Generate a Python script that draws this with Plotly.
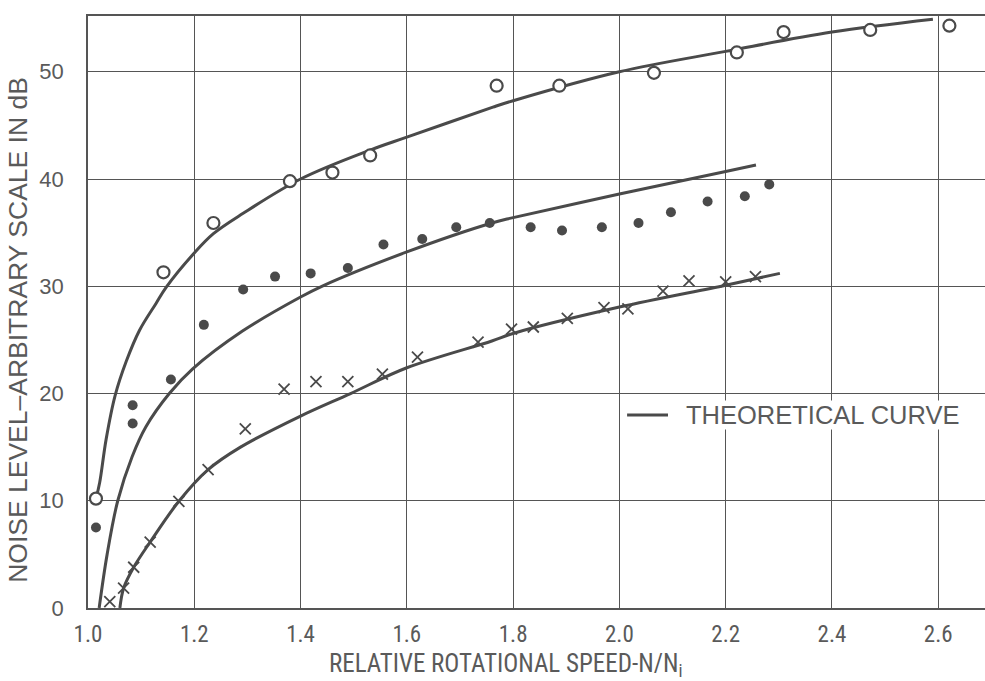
import plotly.graph_objects as go

# ---- data ----
open_x = [1.015, 1.142, 1.236, 1.380, 1.460, 1.531, 1.769, 1.887, 2.065, 2.221, 2.309, 2.472, 2.621]
open_y = [10.2, 31.3, 35.9, 39.8, 40.6, 42.2, 48.7, 48.7, 49.9, 51.8, 53.7, 53.9, 54.3]

dot_x = [1.015, 1.084, 1.084, 1.156, 1.218, 1.292, 1.352, 1.419, 1.489, 1.556, 1.629, 1.693,
         1.756, 1.833, 1.892, 1.967, 2.036, 2.097, 2.166, 2.236, 2.282]
dot_y = [7.5, 18.9, 17.2, 21.3, 26.4, 29.7, 30.9, 31.2, 31.7, 33.9, 34.4, 35.5,
         35.9, 35.5, 35.2, 35.5, 35.9, 36.9, 37.9, 38.4, 39.5]

cross_x = [1.041, 1.067, 1.086, 1.117, 1.171, 1.226, 1.296, 1.369, 1.429, 1.489, 1.554, 1.620,
           1.734, 1.797, 1.838, 1.902, 1.971, 2.016, 2.082, 2.131, 2.200, 2.256]
cross_y = [0.6, 1.85, 3.8, 6.15, 9.95, 12.9, 16.7, 20.4, 21.1, 21.1, 21.8, 23.4,
           24.8, 26.0, 26.2, 27.0, 28.0, 27.9, 29.55, 30.5, 30.4, 30.9]

top_curve_x = [1.015, 1.022, 1.034, 1.051, 1.072, 1.097, 1.128, 1.147, 1.200, 1.236, 1.292,
               1.400, 1.531, 1.600, 1.762, 1.800, 2.000, 2.200, 2.400, 2.590]
top_curve_y = [10.2, 11.7, 15.7, 19.8, 23.0, 25.9, 28.4, 29.9, 33.1, 34.9, 36.8,
               40.0, 42.7, 43.9, 46.7, 47.3, 50.0, 51.9, 53.7, 54.9]

mid_curve_x = [1.021, 1.036, 1.056, 1.083, 1.109, 1.153, 1.197, 1.290, 1.400, 1.440, 1.600,
               1.760, 1.800, 2.000, 2.200, 2.257]
mid_curve_y = [0.0, 5.0, 10.0, 14.1, 16.9, 20.0, 22.3, 25.8, 29.0, 30.0, 33.2,
               35.9, 36.4, 38.6, 40.7, 41.3]

low_curve_x = [1.060, 1.067, 1.086, 1.117, 1.171, 1.226, 1.287, 1.400, 1.494, 1.600, 1.760,
               1.800, 2.000, 2.200, 2.302]
low_curve_y = [0.0, 1.85, 3.8, 6.15, 9.95, 12.9, 15.0, 17.9, 20.0, 22.4, 24.9,
               25.6, 28.06, 30.1, 31.2]

x_ticks = [1.0, 1.2, 1.4, 1.6, 1.8, 2.0, 2.2, 2.4, 2.6]
x_tick_text = ["1.0", "1.2", "1.4", "1.6", "1.8", "2.0", "2.2", "2.4", "2.6"]
y_ticks = [0, 10, 20, 30, 40, 50]
y_tick_text = ["0", "10", "20", "30", "40", "50"]

x_title = "RELATIVE ROTATIONAL SPEED-N/N<sub>i</sub>"
y_title = "NOISE LEVEL–ARBITRARY SCALE IN dB"
legend_label = "THEORETICAL CURVE"

INK = "#4a4a4a"
TXT = "#5a5a5a"
GRID = "#555555"
NARROW = "Liberation Sans Narrow, Roboto Condensed, Liberation Sans, sans-serif"
SANS = "Liberation Sans, Arial, sans-serif"

fig = go.Figure()

curve_style = dict(color=INK, width=3, shape="spline", smoothing=1.0)
fig.add_trace(go.Scatter(x=top_curve_x, y=top_curve_y, mode="lines", line=curve_style,
                         name=legend_label, showlegend=False))
fig.add_trace(go.Scatter(x=mid_curve_x, y=mid_curve_y, mode="lines", line=curve_style,
                         name=legend_label, showlegend=False))
fig.add_trace(go.Scatter(x=low_curve_x, y=low_curve_y, mode="lines", line=curve_style,
                         name=legend_label, showlegend=False))

fig.add_trace(go.Scatter(x=open_x, y=open_y, mode="markers", showlegend=False,
                         marker=dict(symbol="circle", size=12, color="white",
                                     line=dict(color=INK, width=2.2))))
fig.add_trace(go.Scatter(x=dot_x, y=dot_y, mode="markers", showlegend=False,
                         marker=dict(symbol="circle", size=10, color=INK,
                                     line=dict(width=0))))
fig.add_trace(go.Scatter(x=cross_x, y=cross_y, mode="markers", showlegend=False,
                         marker=dict(symbol="x-thin-open", size=11, color=INK,
                                     line=dict(color=INK, width=1.8))))

fig.update_layout(
    width=985, height=681,
    margin=dict(l=88, r=0, t=16, b=73),
    paper_bgcolor="white", plot_bgcolor="white",
    font=dict(family=SANS, color=TXT),
    showlegend=False,
    shapes=[
        # legend key line
        dict(type="line", xref="paper", yref="paper", x0=0.601, x1=0.6466, y0=0.326, y1=0.326,
             line=dict(color=INK, width=3)),
    ],
    annotations=[
        dict(text=legend_label, xref="paper", yref="paper", x=0.6656, y=0.326,
             xanchor="left", yanchor="middle", showarrow=False, bgcolor="white", borderpad=0,
             font=dict(size=25.5, family=SANS, color=TXT)),
        dict(text=x_title, xref="paper", yref="paper", x=0.465, y=-0.097,
             xanchor="center", yanchor="middle", showarrow=False,
             font=dict(size=25, family=NARROW, color=TXT)),
        dict(text=y_title, xref="paper", yref="paper", x=-0.078, y=0.47,
             xanchor="center", yanchor="middle", showarrow=False, textangle=-90,
             font=dict(size=26.5, family=SANS, color=TXT)),
    ],
)

fig.update_xaxes(
    range=[1.0, 2.688], tickvals=x_ticks, ticktext=x_tick_text,
    showgrid=True, gridcolor=GRID, gridwidth=1.4,
    showline=True, linecolor=GRID, linewidth=1.6, mirror=True,
    zeroline=False, ticks="", ticklabelstandoff=5,
    tickfont=dict(size=23, family=NARROW, color=TXT),
)
fig.update_yaxes(
    range=[0, 55.2], tickvals=y_ticks, ticktext=y_tick_text,
    showgrid=True, gridcolor=GRID, gridwidth=1.4,
    showline=True, linecolor=GRID, linewidth=1.6, mirror=False,
    zeroline=False, ticks="", ticklabelstandoff=18,
    tickfont=dict(size=22, family=SANS, color=TXT),
)

fig.write_html("out.html")
